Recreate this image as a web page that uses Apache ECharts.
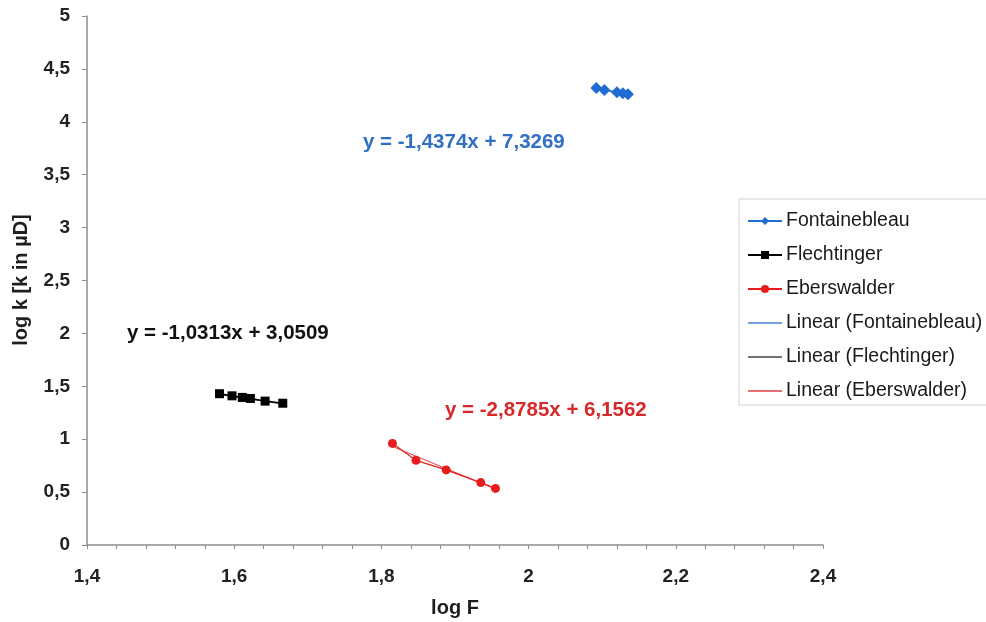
<!DOCTYPE html>
<html>
<head>
<meta charset="utf-8">
<script src="https://cdn.jsdelivr.net/npm/echarts@6/dist/echarts.min.js"></script>
<style>
  html, body { margin: 0; padding: 0; background: #fff; }
  #chart { width: 986px; height: 622px; }
</style>
</head>
<body>
<div id="chart"></div>
<script>
// Measured samples: log F (x) against log k (y)
const fontainebleauX = [2.092, 2.103, 2.120, 2.128, 2.135];
const fontainebleauY = [4.32, 4.30, 4.28, 4.27, 4.26];
const flechtingerX = [1.580, 1.597, 1.611, 1.622, 1.642, 1.666];
const flechtingerY = [1.43, 1.41, 1.395, 1.385, 1.36, 1.34];
const eberswalderX = [1.815, 1.847, 1.888, 1.935, 1.955];
const eberswalderY = [0.96, 0.80, 0.71, 0.59, 0.535];

// Linear fits: [slope, intercept]
const fitFontainebleau = [-1.4374, 7.3269];
const fitFlechtinger = [-1.0313, 3.0509];
const fitEberswalder = [-2.8785, 6.1562];

const seriesNames = ['Fontainebleau', 'Flechtinger', 'Eberswalder'];
const trendNames = seriesNames.map(n => 'Linear (' + n + ')');

const blue = '#1f6cd2', black = '#000000', red = '#e81c1c';
const font = '"Liberation Sans", Arial, sans-serif';

function pairs(xs, ys) { return xs.map((x, i) => [x, ys[i]]); }
function fitLine(xs, fit) {
  const lo = Math.min(...xs), hi = Math.max(...xs);
  return [[lo, fit[0] * lo + fit[1]], [hi, fit[0] * hi + fit[1]]];
}
function comma(v, d) { return v.toFixed(d).replace('.', ','); }
function eqText(fit) {
  return 'y = ' + comma(fit[0], 4) + 'x + ' + comma(fit[1], 4);
}
function fmt(v) {
  const r = Math.round(v * 10) / 10;
  return String(r).replace('.', ',');
}

// thin horizontal bar used as the legend icon of the trend lines
const lineIcon = 'path://M0,0 L30,0 L30,1.2 L0,1.2 Z';

const chart = echarts.init(document.getElementById('chart'), null, { renderer: 'canvas' });

chart.setOption({
  animation: false,
  backgroundColor: '#ffffff',
  grid: { left: 87, right: 163, top: 16, bottom: 77, containLabel: false, outerBoundsMode: 'none' },
  xAxis: {
    type: 'value', min: 1.4, max: 2.4, interval: 0.2,
    name: 'log F', nameLocation: 'middle', nameGap: 53,
    nameTextStyle: { fontFamily: font, fontWeight: 'bold', fontSize: 20, color: '#1e1e1e' },
    axisLine: { show: true, lineStyle: { color: '#8c8c8c', width: 1.5 } },
    axisTick: { show: true, length: 4, lineStyle: { color: '#8c8c8c' } },
    minorTick: { show: true, splitNumber: 5, length: 4, lineStyle: { color: '#8c8c8c' } },
    splitLine: { show: false },
    axisLabel: { formatter: fmt, color: '#222', fontFamily: font, fontWeight: 'bold', fontSize: 19, margin: 22 }
  },
  yAxis: {
    type: 'value', min: 0, max: 5, interval: 0.5,
    axisLine: { show: true, lineStyle: { color: '#8c8c8c', width: 1.5 } },
    axisTick: { show: true, length: 5, lineStyle: { color: '#8c8c8c' } },
    splitLine: { show: false },
    axisLabel: { formatter: fmt, color: '#222', fontFamily: font, fontWeight: 'bold', fontSize: 19, margin: 17 }
  },
  legend: {
    orient: 'vertical', left: 739, top: 199,
    padding: [12, 10, 4, 8],
    itemGap: 14, itemWidth: 34, itemHeight: 10,
    borderColor: '#cfcfcf', borderWidth: 1,
    textStyle: { fontFamily: font, fontSize: 19.5, lineHeight: 18, color: '#1a1a1a', padding: [0, 0, 0, -1] },
    data: [
      { name: seriesNames[0] }, { name: seriesNames[1] }, { name: seriesNames[2] },
      { name: trendNames[0], icon: lineIcon },
      { name: trendNames[1], icon: lineIcon },
      { name: trendNames[2], icon: lineIcon }
    ]
  },
  graphic: [
    { type: 'text', style: { x: 363, y: 142, textVerticalAlign: 'middle', text: eqText(fitFontainebleau), fill: '#2f6fc6', font: 'bold 20.5px ' + font } },
    { type: 'text', style: { x: 127, y: 333, textVerticalAlign: 'middle', text: eqText(fitFlechtinger), fill: '#111', font: 'bold 20.5px ' + font } },
    { type: 'text', style: { x: 445, y: 410, textVerticalAlign: 'middle', text: eqText(fitEberswalder), fill: '#d62828', font: 'bold 20.5px ' + font } },
    { type: 'text', x: 21, y: 280, rotation: Math.PI / 2,
      style: { x: 0, y: 0, textAlign: 'center', textVerticalAlign: 'middle', text: 'log k [k in µD]', fill: '#1e1e1e', font: 'bold 20px ' + font } }
  ],
  series: [
    { name: seriesNames[0], type: 'line', data: pairs(fontainebleauX, fontainebleauY),
      symbol: 'diamond', symbolSize: 12, showAllSymbol: true,
      lineStyle: { color: blue, width: 1.5 }, itemStyle: { color: blue } },
    { name: seriesNames[1], type: 'line', data: pairs(flechtingerX, flechtingerY),
      symbol: 'rect', symbolSize: 9, showAllSymbol: true,
      lineStyle: { color: black, width: 1.5 }, itemStyle: { color: black } },
    { name: seriesNames[2], type: 'line', data: pairs(eberswalderX, eberswalderY),
      symbol: 'circle', symbolSize: 9, showAllSymbol: true,
      lineStyle: { color: red, width: 1.2 }, itemStyle: { color: red } },
    { name: trendNames[0], type: 'line', data: fitLine(fontainebleauX, fitFontainebleau),
      symbol: 'none', lineStyle: { color: '#4a82d4', width: 1 }, itemStyle: { color: '#4a82d4' }, z: 1 },
    { name: trendNames[1], type: 'line', data: fitLine(flechtingerX, fitFlechtinger),
      symbol: 'none', lineStyle: { color: '#333', width: 1 }, itemStyle: { color: '#444' }, z: 1 },
    { name: trendNames[2], type: 'line', data: fitLine(eberswalderX, fitEberswalder),
      symbol: 'none', lineStyle: { color: '#e04040', width: 1 }, itemStyle: { color: '#e04040' }, z: 1 }
  ]
});
</script>
</body>
</html>
